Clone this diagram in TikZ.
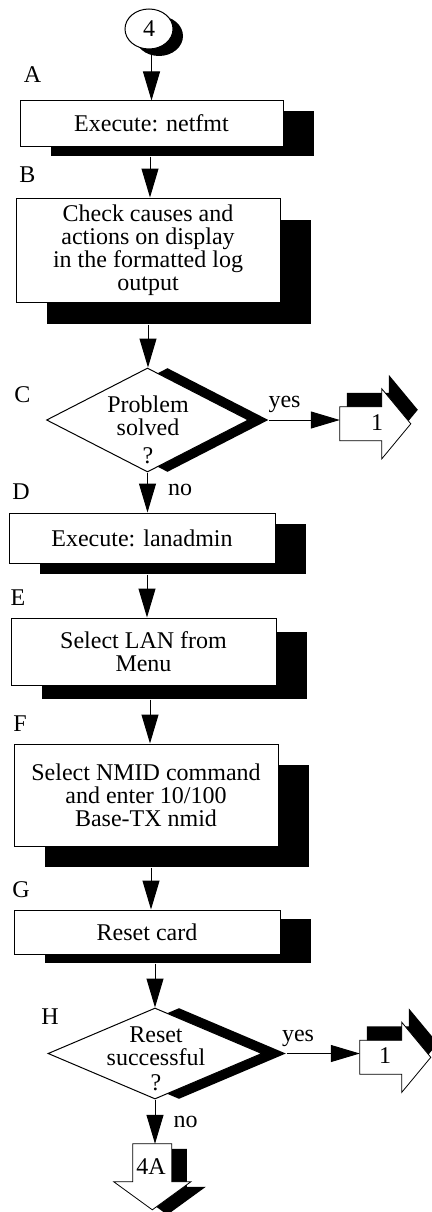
\documentclass[tikz,border=0pt]{standalone}
\usepackage{fontspec}
\setmainfont{Liberation Serif}
\usetikzlibrary{arrows.meta,shapes.geometric,shadows,backgrounds,calc}
\newcommand{\myrcon}[2]{([shift={#2}]#1.north west) -- ++(42,0) -- ++(0,-18) -- ++(29,35) -- ++(-29,35) -- ++(0,-18) -- ++(-42,0) -- cycle}
\newcommand{\mydcon}[2]{([shift={#2}]#1.north west) -- ++(39,0) -- ++(0,38) -- ++(19,0) -- ++(-38.5,28) -- ++(-38.5,-28) -- ++(19,0) -- cycle}
\tikzset{
  fnt/.style={font=\fontsize{24}{23}\selectfont},
  shad/.style 2 args={general shadow={fill=black,shadow xshift=#1pt,shadow yshift=-#2pt}},
  procbox/.style={draw, fill=white, line width=1pt, inner sep=0pt, align=center, fnt},
  decis/.style={diamond, draw, fill=white, line width=1pt, inner sep=0pt},
  arr/.style={line width=1pt, -{Triangle[length=29pt,width=17pt]}},
  lbl/.style={anchor=base, inner sep=0pt, fnt},
  connbox/.style={inner sep=0pt},
  connline/.style={fill=white, draw=black, line width=0.8pt},
}
\begin{document}
\begin{tikzpicture}[x=1pt,y=-1pt]
\path[use as bounding box] (0,0) rectangle (431,1212);

% start connector
\node[ellipse, draw, fill=white, line width=1pt, minimum width=48pt, minimum height=40pt, inner sep=0pt, fnt, shad={10}{7}] (c4) at (149,29) {4};

% process boxes
\node[procbox, minimum width=263pt, minimum height=45pt, shad={31}{10}] (A) at (151.5,123.5) {Execute: netfmt};
\node[procbox, minimum width=264pt, minimum height=104pt, shad={31}{22}] (B) at (148,250) {Check causes and\\actions on display\\in the formatted log\\output};
\node[decis, minimum width=202pt, minimum height=104pt, shad={20}{0}] (C) at (147.5,420) {};
\node[fnt, align=center, inner sep=0pt] (Ct) at (148,429.5) {Problem\\solved\\[5pt]?};
\node[procbox, minimum width=266pt, minimum height=50pt, shad={31}{11}] (D) at (142,538) {Execute: lanadmin};
\node[procbox, minimum width=265pt, minimum height=67pt, shad={31}{14}] (E) at (143.5,651.5) {Select LAN from\\Menu};
\node[procbox, minimum width=264pt, minimum height=102pt, shad={31}{21}] (F) at (146,795) {Select NMID command\\and enter 10/100\\Base-TX nmid};
\node[procbox, minimum width=266pt, minimum height=44pt, shad={31}{9}] (G) at (147,932) {Reset card};
\node[decis, minimum width=214pt, minimum height=91pt, shad={24}{0}] (H) at (155,1053.5) {};
\node[fnt, align=center, inner sep=0pt] (Ht) at (156,1058.5) {Reset\\successful\\[2pt]?};

% off-page connectors
\node[connbox, minimum width=42pt, minimum height=34pt] (k1c) at (361,424) {};
\node[connbox, minimum width=42pt, minimum height=34pt] (k1h) at (381,1057.5) {};
\node[connbox, minimum width=39pt, minimum height=38pt] (k4a) at (152.5,1163) {};
\begin{scope}[on background layer]
  \fill[white] (0,0) rectangle (431,1212);
  \fill[black] \myrcon{k1c}{(7,-14)};
  \path[connline] \myrcon{k1c}{(0,0)};
  \fill[black] \myrcon{k1h}{(7,-14)};
  \path[connline] \myrcon{k1h}{(0,0)};
  \fill[black] \mydcon{k4a}{(15,5)};
  \path[connline] \mydcon{k4a}{(0,0)};
\end{scope}
\node[lbl] (k1ct) at (377,430) {1};
\node[lbl] (k1ht) at (385,1063) {1};
\node[lbl] (k4at) at (151,1174) {4A};

% step letters
\node[lbl] (lA) at (32.5,83) {A};
\node[lbl] (lB) at (27.5,182) {B};
\node[lbl] (lC) at (22.5,402) {C};
\node[lbl] (lD) at (21,499) {D};
\node[lbl] (lE) at (18,605) {E};
\node[lbl] (lF) at (20,731) {F};
\node[lbl] (lG) at (21,897) {G};
\node[lbl] (lH) at (50,1024) {H};

% branch labels
\node[lbl] (yC) at (284.5,407) {yes};
\node[lbl] (nC) at (180,495) {no};
\node[lbl] (yH) at (298,1041) {yes};
\node[lbl] (nH) at (185.5,1127) {no};

% connectors
\coordinate (a1) at ([shift={(-1.5,10)}]A.south);
\coordinate (b1) at ([shift={(0,22)}]B.south);
\coordinate (d1) at ([shift={(5,11)}]D.south);
\coordinate (e1) at ([shift={(6.5,14)}]E.south);
\coordinate (f1) at ([shift={(5,21)}]F.south);
\coordinate (g1) at ([shift={(8,9)}]G.south);
\coordinate (c2) at ([xshift=20pt]C.east);
\coordinate (h2) at ([xshift=24pt]H.east);

\draw[arr] (c4.south -| A.north) -- (A.north);
\draw[arr] (a1) -- (a1 |- B.north);
\draw[arr] (b1) -- (b1 |- C.north);
\draw[arr] (C.south) -- (C.south |- D.north);
\draw[arr] (d1) -- (d1 |- E.north);
\draw[arr] (e1) -- (e1 |- F.north);
\draw[arr] (f1) -- (f1 |- G.north);
\draw[arr] (g1) -- (g1 |- H.north);
\draw[arr] (H.south) -- (H.south |- k4a.north);
\draw[arr] (c2) -- (c2 -| k1c.west);
\draw[arr] (h2) -- (h2 -| k1h.west);
\end{tikzpicture}
\end{document}
